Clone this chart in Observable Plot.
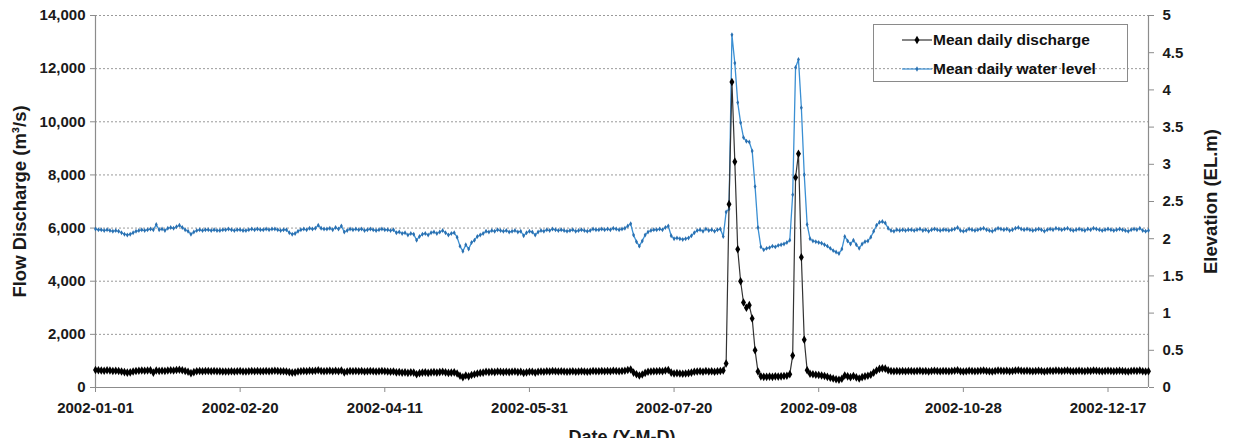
<!DOCTYPE html>
<html>
<head>
<meta charset="utf-8">
<script src="https://cdn.jsdelivr.net/npm/d3@7"></script>
<script src="https://cdn.jsdelivr.net/npm/@observablehq/plot@0.6"></script>
<style>
  html, body { margin: 0; padding: 0; background: #fff; overflow: hidden; }
  #wrap { position: relative; width: 1238px; height: 438px; }
  #legend { position: absolute; left: 873px; top: 24px; width: 255px; height: 58px; border: 1px solid #8a8a8a; box-sizing: border-box;
    font-family: "Liberation Sans", Arial, sans-serif; font-weight: bold; font-size: 15.5px; color: #111; }
  .row { position: absolute; left: 28px; display: flex; align-items: center; }
  .row svg { margin-right: 1px; }
</style>
</head>
<body>
<div id="wrap">
  <div id="chart"></div>
  <div id="legend"></div>
</div>
<script>
// ---- data ----
const startDate = "2002-01-01";
const endDate = "2002-12-31";
const xTickLabels = ["2002-01-01","2002-02-20","2002-04-11","2002-05-31","2002-07-20","2002-09-08","2002-10-28","2002-12-17"];
const leftTicks = [0, 2000, 4000, 6000, 8000, 10000, 12000, 14000];
const rightTicks = [0, 0.5, 1, 1.5, 2, 2.5, 3, 3.5, 4, 4.5, 5];
const seriesNames = ["Mean daily discharge", "Mean daily water level"];

// Mean daily discharge (m3/s), one value per day, Jan..Dec
const discharge = [
  // Jan
  660,650,640,630,650,640,620,630,620,600,580,560,570,600,620,630,640,630,640,650,560,640,620,630,620,640,650,640,660,670,650,
  // Feb
  620,590,540,580,610,620,610,620,620,610,620,610,610,600,600,600,610,600,610,620,600,600,610,620,610,620,610,610,
  // Mar
  620,610,620,630,620,610,610,600,580,560,570,600,610,620,610,630,620,630,650,620,610,620,630,610,630,610,640,570,600,620,610,
  // Apr
  620,610,620,600,610,620,610,600,610,620,610,600,590,600,570,580,560,570,550,570,560,500,540,560,570,550,570,580,560,580,
  // May
  590,570,550,560,570,530,440,390,450,420,470,500,530,550,560,590,580,590,580,600,590,580,590,580,590,600,580,590,550,570,590,
  // Jun
  590,560,590,600,590,610,600,620,610,600,610,600,590,600,610,590,600,610,600,590,600,620,610,610,620,610,620,610,630,620,
  // Jul
  610,620,630,660,680,560,500,450,490,550,590,600,610,610,620,610,640,660,560,530,540,530,520,530,540,560,590,600,610,590,620,
  // Aug
  600,610,590,610,620,640,900,6900,11500,8500,5200,4000,3200,3000,3100,2600,1400,600,420,400,400,410,400,420,410,420,430,440,500,1200,7900,
  // Sep
  8800,4900,1800,650,520,500,480,470,450,430,400,370,340,310,290,330,450,420,390,430,380,340,390,420,440,480,560,640,700,720,
  // Oct
  710,650,620,610,620,610,620,610,620,620,610,620,630,610,620,600,620,630,620,610,620,620,610,620,630,650,610,600,610,630,620,
  // Nov
  610,620,630,640,620,610,600,620,640,630,620,630,610,620,640,650,630,620,630,620,610,620,630,620,600,620,630,620,640,630,
  // Dec
  620,630,640,620,610,620,630,620,610,630,620,640,630,620,610,620,630,620,610,620,630,620,610,600,620,630,620,640,610,600,610
];

// Mean daily water level (EL.m), one value per day, Jan..Dec
const waterLevel = [
  // Jan
  2.13,2.12,2.12,2.11,2.12,2.11,2.10,2.11,2.10,2.08,2.06,2.05,2.06,2.08,2.10,2.11,2.12,2.11,2.12,2.13,2.12,2.19,2.12,2.13,2.11,2.14,2.15,2.14,2.16,2.18,2.15,
  // Feb
  2.12,2.10,2.06,2.09,2.11,2.12,2.11,2.12,2.12,2.11,2.12,2.11,2.11,2.12,2.12,2.13,2.12,2.11,2.12,2.12,2.11,2.11,2.12,2.13,2.12,2.13,2.12,2.12,
  // Mar
  2.13,2.12,2.13,2.13,2.12,2.11,2.12,2.12,2.08,2.06,2.07,2.10,2.12,2.13,2.12,2.14,2.13,2.14,2.18,2.14,2.13,2.13,2.14,2.12,2.15,2.13,2.17,2.09,2.11,2.13,2.12,
  // Apr
  2.13,2.12,2.13,2.11,2.12,2.13,2.12,2.11,2.12,2.13,2.12,2.12,2.11,2.12,2.08,2.09,2.07,2.08,2.05,2.07,2.06,1.98,2.03,2.06,2.07,2.05,2.08,2.09,2.07,2.09,
  // May
  2.11,2.08,2.05,2.07,2.08,2.02,1.90,1.83,1.92,1.86,1.95,1.98,2.03,2.05,2.07,2.10,2.09,2.11,2.10,2.12,2.11,2.10,2.11,2.09,2.10,2.11,2.09,2.10,2.04,2.08,2.10,
  // Jun
  2.09,2.05,2.09,2.11,2.10,2.12,2.11,2.13,2.12,2.11,2.12,2.11,2.10,2.11,2.12,2.10,2.11,2.12,2.11,2.10,2.11,2.13,2.12,2.12,2.13,2.12,2.13,2.12,2.14,2.13,
  // Jul
  2.12,2.13,2.14,2.17,2.20,2.05,1.96,1.90,1.97,2.05,2.09,2.11,2.12,2.12,2.13,2.12,2.15,2.17,2.04,2.00,2.01,2.00,1.99,2.00,2.01,2.04,2.08,2.11,2.12,2.10,2.13,
  // Aug
  2.11,2.12,2.10,2.12,2.13,2.03,2.36,2.40,4.74,4.36,3.83,3.56,3.36,3.31,3.30,3.18,2.70,2.15,1.89,1.85,1.87,1.88,1.90,1.89,1.91,1.92,1.93,1.95,1.98,2.59,4.30,
  // Sep
  4.41,3.76,2.86,2.19,2.00,1.97,1.96,1.95,1.94,1.92,1.90,1.87,1.84,1.82,1.80,1.86,2.03,1.97,1.93,1.98,1.92,1.87,1.93,1.96,1.97,2.02,2.10,2.18,2.22,2.23,
  // Oct
  2.21,2.14,2.11,2.10,2.12,2.11,2.12,2.11,2.12,2.12,2.11,2.12,2.13,2.11,2.12,2.10,2.12,2.13,2.12,2.11,2.12,2.12,2.11,2.12,2.13,2.15,2.11,2.10,2.11,2.13,2.12,
  // Nov
  2.11,2.12,2.13,2.14,2.12,2.11,2.10,2.12,2.14,2.13,2.12,2.13,2.11,2.12,2.14,2.15,2.13,2.12,2.13,2.12,2.11,2.12,2.13,2.12,2.10,2.12,2.13,2.12,2.14,2.13,
  // Dec
  2.12,2.13,2.14,2.12,2.11,2.12,2.13,2.12,2.11,2.13,2.12,2.14,2.13,2.12,2.11,2.12,2.13,2.12,2.11,2.12,2.13,2.12,2.11,2.10,2.12,2.13,2.12,2.14,2.11,2.10,2.11
];

// ---- build ----
const leftMax = 14000, rightMax = 5;
const k = leftMax / rightMax; // maps the right (elevation) axis onto the left scale
const t0 = d3.utcParse("%Y-%m-%d")(startDate);
const t1 = d3.utcParse("%Y-%m-%d")(endDate);
const data = discharge.map((q, i) => ({ date: d3.utcDay.offset(t0, i), q, h: waterLevel[i] }));
const xTicks = xTickLabels.map(d3.utcParse("%Y-%m-%d"));

const blueLine = "#3a8fd3", blueDot = "#2a70b0";
const font = "'Liberation Sans', Arial, sans-serif";
const ink = "#1a1a1a";

const chart = Plot.plot({
  width: 1238,
  height: 438,
  marginLeft: 95,
  marginRight: 90,
  marginTop: 15,
  marginBottom: 51,
  style: { fontFamily: font, fontWeight: "bold", color: ink, background: "#fff" },
  x: { type: "utc", domain: [t0, t1] },
  y: { domain: [0, leftMax] },
  marks: [
    Plot.gridY(leftTicks, { stroke: "#9a9a9a", strokeOpacity: 1, strokeDasharray: "2,2" }),
    Plot.ruleX([t0, t1], { stroke: "#8c8c8c", strokeWidth: 1.2 }),
    Plot.ruleY([0], { stroke: "#8c8c8c", strokeWidth: 1.2 }),
    Plot.axisY(leftTicks, { anchor: "left", tickSize: 5, tickPadding: 5, fontSize: 15, tickFormat: d3.format(","), label: null, stroke: "#8c8c8c" }),
    Plot.axisY(rightTicks.map(v => v * k), { anchor: "right", tickSize: 5, tickPadding: 9, fontSize: 15, tickFormat: d => String(Math.round(d / k * 10) / 10), label: null, stroke: "#8c8c8c" }),
    Plot.axisX(xTicks, { anchor: "bottom", tickSize: 5, tickPadding: 10, fontSize: 15, tickFormat: d3.utcFormat("%Y-%m-%d"), label: null, stroke: "#8c8c8c" }),
    Plot.text(["Flow Discharge (m³/s)"], { frameAnchor: "left", dx: -75, rotate: -90, textAnchor: "middle", fontSize: 18.5, fill: ink }),
    Plot.text(["Elevation (EL.m)"], { frameAnchor: "right", dx: 63, rotate: -90, textAnchor: "middle", fontSize: 18.5, fill: ink }),
    Plot.text(["Date (Y-M-D)"], { frameAnchor: "bottom", dy: 55, lineAnchor: "bottom", fontSize: 18, fill: ink }),
    Plot.lineY(data, { x: "date", y: d => d.h * k, stroke: blueLine, strokeWidth: 1.3 }),
    Plot.dot(data, { x: "date", y: d => d.h * k, symbol: "diamond", r: 1.5, fill: blueDot }),
    Plot.lineY(data, { x: "date", y: "q", stroke: "#333", strokeWidth: 1.2 }),
    Plot.dot(data, { x: "date", y: "q", symbol: "diamond", r: 2.6, fill: "#000" })
  ]
});
document.getElementById("chart").appendChild(chart);

// legend
const legend = document.getElementById("legend");
const swatches = [
  { name: seriesNames[0], line: "#333", dot: "#000", r: 2.6 },
  { name: seriesNames[1], line: blueLine, dot: blueDot, r: 1.6 }
];
swatches.forEach((s, i) => {
  const row = document.createElement("div");
  row.className = "row";
  row.style.top = (i === 0 ? 6 : 35) + "px";
  row.innerHTML = `<svg width="30" height="12"><line x1="0" y1="6" x2="30" y2="6" stroke="${s.line}" stroke-width="1.2"/>` +
    `<path d="${d3.symbol(d3.symbolDiamond, Math.PI * s.r * s.r)()}" transform="translate(15,6)" fill="${s.dot}"/></svg>` +
    `<span>${s.name}</span>`;
  legend.appendChild(row);
});
</script>
</body>
</html>
